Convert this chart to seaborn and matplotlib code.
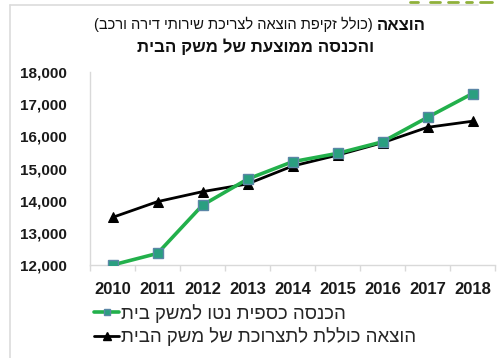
import numpy as np
import pandas as pd
import matplotlib
matplotlib.use("Agg")
import matplotlib.pyplot as plt
import seaborn as sns
from matplotlib.lines import Line2D

years = [2010, 2011, 2012, 2013, 2014, 2015, 2016, 2017, 2018]
income = [12000, 12360, 13860, 14670, 15210, 15470, 15830, 16590, 17330]
expense = [13480, 13970, 14280, 14520, 15075, 15415, 15800, 16280, 16470]
y_ticks = [12000, 13000, 14000, 15000, 16000, 17000, 18000]

title_main = "הוצאה"
title_paren = "(כולל זקיפת הוצאה לצריכת שירותי דירה ורכב)"
title_line2 = "והכנסה ממוצעת של משק הבית"
label_income = "הכנסה כספית נטו למשק בית"
label_expense = "הוצאה כוללת לתצרוכת של משק הבית"


def vis(s):
    """Convert logical-order Hebrew to visual order for LTR rendering."""
    mirror = {"(": ")", ")": "("}
    return "".join(mirror.get(c, c) for c in reversed(s))


sns.set_theme(style="white")
plt.rcParams["font.family"] = ["Liberation Sans", "DejaVu Sans"]

W, H = 497, 358
fig = plt.figure(figsize=(W / 100, H / 100), dpi=100)
ax = fig.add_axes([90 / W, 1 - 265 / H, 405 / W, (265 - 72) / H])

df = pd.DataFrame({"year": years, "income": income, "expense": expense})

green = "#22b04b"
sns.lineplot(data=df, x="year", y="expense", ax=ax, color="black", lw=2.0,
             marker="^", markersize=7, markerfacecolor="black",
             markeredgecolor="black", zorder=3)
sns.lineplot(data=df, x="year", y="income", ax=ax, color=green, lw=2.6,
             marker="s", markersize=6.5, markerfacecolor="#2a9f80",
             markeredgecolor="#5b86a6", markeredgewidth=1.0, zorder=4)

ax.set_xlim(years[0] - 0.5, years[-1] + 0.5)
ax.set_ylim(12000, 18000)
ax.set_xticks(years)
ax.set_xticklabels([str(y) for y in years], fontsize=12, fontweight="bold")
ax.set_xticks([y - 0.5 for y in years] + [years[-1] + 0.5], minor=True)
ax.set_yticks(y_ticks)
ax.set_yticklabels([f"{v:,}" for v in y_ticks], fontsize=11, fontweight="bold")
ax.tick_params(axis="x", which="major", length=0, pad=12, colors="#1a1a1a")
ax.tick_params(axis="x", which="minor", length=4, color="#d9d9d9", width=1,
               direction="out", bottom=True)
ax.tick_params(axis="y", length=0, pad=17, colors="#1a1a1a")
ax.set_xlabel("")
ax.set_ylabel("")
for s in ["top", "right"]:
    ax.spines[s].set_visible(False)
for s in ["left", "bottom"]:
    ax.spines[s].set_color("#d9d9d9")
    ax.spines[s].set_linewidth(1)
ax.grid(False)

# Title
fig.canvas.draw()
renderer = fig.canvas.get_renderer()
t_main = fig.text(426 / W, 1 - 25 / H, vis(title_main), ha="right", va="center",
                  fontsize=12, fontweight="bold", color="#111111")
bb = t_main.get_window_extent(renderer)
fig.text((bb.x0 - 4) / W, 1 - 24 / H, vis(title_paren), ha="right", va="center",
         fontsize=10.5, color="#111111")
fig.text(256 / W, 1 - 47 / H, vis(title_line2), ha="center", va="center",
         fontsize=12.2, fontweight="bold", color="#111111")

# Legend
handles = [
    Line2D([0], [0], color=green, lw=2.6, marker="s", markersize=5,
           markerfacecolor="#2a9f80", markeredgecolor="#5b86a6"),
    Line2D([0], [0], color="black", lw=2.0, marker="^", markersize=6,
           markerfacecolor="black"),
]
fig.legend(handles, [vis(label_income), vis(label_expense)],
           loc="upper left", bbox_to_anchor=(94 / W, 1 - 304 / H),
           frameon=False, fontsize=13.4, handlelength=1.35, handletextpad=0.1,
           labelspacing=0.25, borderaxespad=0, borderpad=0)

# Slide frame decorations
fig.add_artist(Line2D([10 / W, 10 / W], [0, 1 - 5 / H], color="#dcdcdc",
                      lw=1.2, transform=fig.transFigure))
fig.add_artist(Line2D([10 / W, 478 / W], [1 - 5 / H, 1 - 5 / H],
                      color="#dcdcdc", lw=1.2, transform=fig.transFigure))
for x0, x1 in [(410, 418), (430, 440), (448, 458), (466, 472), (480, 492)]:
    fig.add_artist(Line2D([x0 / W, x1 / W], [1 - 1.5 / H, 1 - 1.5 / H],
                          color="#8fb03a", lw=2, transform=fig.transFigure))

fig.savefig("out.png", dpi=100)
